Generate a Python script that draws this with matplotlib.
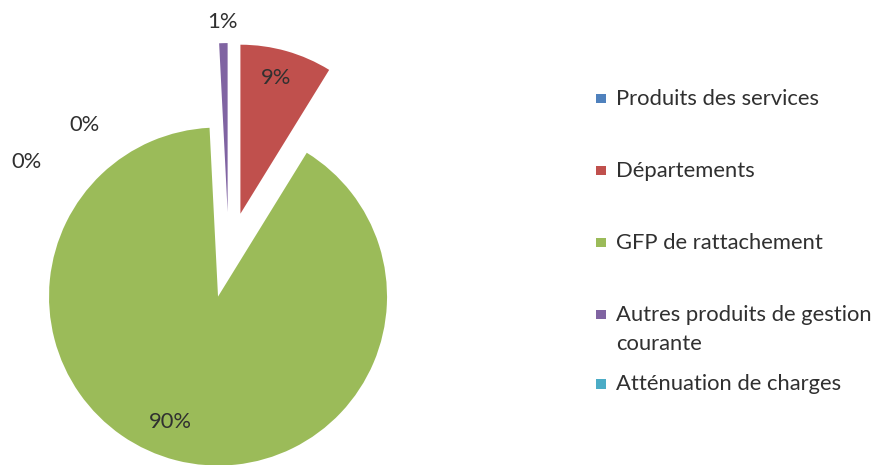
import matplotlib
matplotlib.use("Agg")
import matplotlib.pyplot as plt
from matplotlib.patches import Rectangle

# data
labels = ["Produits des services", "Départements", "GFP de rattachement",
          "Autres produits de gestion\ncourante", "Atténuation de charges"]
values = [0.0, 8.8, 90.4, 0.8, 0.0]
colors = ["#4F81BD", "#C0504D", "#9BBB59", "#8064A2", "#4BACC6"]

# layout (pixels)
W, H = 875, 465
R = 169.0                 # pie radius
CX, CY = 228.7, 255.0     # pie centre, measured from top-left
pct_pos = [(85, 125), (276, 78), (170, 422), (222, 22), (27, 162)]
leg_y = [98.5, 170.5, 242.5, 314.5, 384]
FONT = "Lato"
TXT = "#303030"
FS = 15.8

fig = plt.figure(figsize=(W / 100, H / 100), dpi=100)
fig.patch.set_facecolor("white")

ax = fig.add_axes([0, 0, 1, 1])
ax.pie(values, colors=colors, startangle=90, counterclock=False,
       explode=[0.254] * len(values), radius=1.0)
ax.set_xlim(-CX / R, (W - CX) / R)
ax.set_ylim(-(H - CY) / R, CY / R)
ax.set_aspect("auto")
ax.axis("off")

# overlay in pixel coords for labels + legend
ov = fig.add_axes([0, 0, 1, 1], facecolor="none")
ov.set_xlim(0, W); ov.set_ylim(H, 0); ov.axis("off")

total = sum(values)
for v, (px, py) in zip(values, pct_pos):
    ov.text(px, py, f"{v / total * 100:.0f}%", ha="center", va="center",
            fontsize=FS, family=FONT, color=TXT)

for lbl, col, y in zip(labels, colors, leg_y):
    ov.add_patch(Rectangle((596, y - 4.8), 9.6, 9.6, facecolor=col, edgecolor="none"))
    for k, line in enumerate(lbl.split("\n")):
        ov.text(616, y + k * 29, line, ha="left", va="center",
                fontsize=FS, family=FONT, color=TXT)

fig.savefig("out.png", dpi=100, facecolor="white")
